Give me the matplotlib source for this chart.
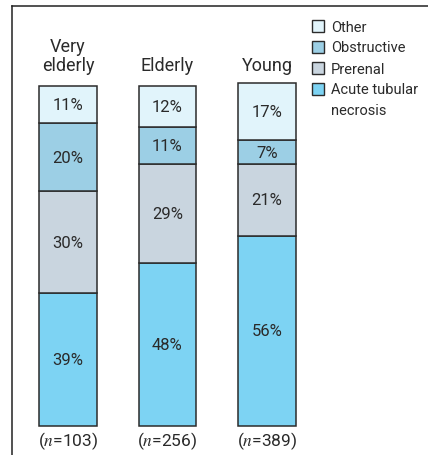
import numpy as np
import matplotlib
matplotlib.use("Agg")
import matplotlib.pyplot as plt
from matplotlib.patches import Rectangle
from matplotlib.lines import Line2D

plt.rcParams['font.family'] = ['Roboto', 'DejaVu Sans']
plt.rcParams['mathtext.fontset'] = 'stix'

groups = ["Very\nelderly", "Elderly", "Young"]
n_labels = ["103", "256", "389"]
categories = ["Acute tubular\nnecrosis", "Prerenal", "Obstructive", "Other"]
acute = [39, 48, 56]
prerenal = [30, 29, 21]
obstructive = [20, 11, 7]
other = [11, 12, 17]
series = [acute, prerenal, obstructive, other]
colors = ["#7dd3f3", "#c9d5df", "#9ccfe5", "#e1f4fb"]
edge = "#2b2b2b"
txt = "#2a2a2a"

W, H = 428, 456
fig = plt.figure(figsize=(W / 100, H / 100), dpi=100)
ax = fig.add_axes([0, 0, 1, 1])
ax.set_xlim(-0.683, 3.618)
ax.set_ylim(-8.53, 125.6)
ax.axis("off")

x = np.arange(len(groups))
bottom = np.zeros(len(groups))
for vals, c in zip(series, colors):
    vals = np.array(vals)
    ax.bar(x, vals, bottom=bottom, width=0.58, color=c, edgecolor=edge, linewidth=1.1)
    for xi, b, v in zip(x, bottom, vals):
        ax.text(xi, b + v / 2, f"{v}%", ha="center", va="center", fontsize=12, color=txt)
    bottom += vals

for xi, g in zip(x, groups):
    ax.text(xi, 103.5, g, ha="center", va="bottom", fontsize=13, color=txt, linespacing=1.1)

for xi, n in zip(x, n_labels):
    ax.text(xi, -4.3, "(" + r"$\mathit{n}$" + "=" + n + ")", ha="center", va="center",
            fontsize=12.5, color=txt)

# frame lines (left and top)
fig.add_artist(Line2D([12 / W, 12 / W], [0, 1 - 7 / H], color="#222222", lw=1.1))
fig.add_artist(Line2D([12 / W, 1], [1 - 7 / H, 1 - 7 / H], color="#222222", lw=1.1))

# legend
leg_y = [27, 48, 69, 90]
for yy, c, lab in zip(leg_y, colors[::-1], categories[::-1]):
    fig.add_artist(Rectangle((312 / W, 1 - (yy + 6) / H), 12 / W, 12 / H,
                             facecolor=c, edgecolor=edge, lw=1.0, transform=fig.transFigure))
    fig.text(331 / W, 1 - (yy - 6.5) / H, lab, ha="left", va="top", fontsize=10.5,
             color=txt, linespacing=1.6)

fig.savefig("out.png", dpi=100)
